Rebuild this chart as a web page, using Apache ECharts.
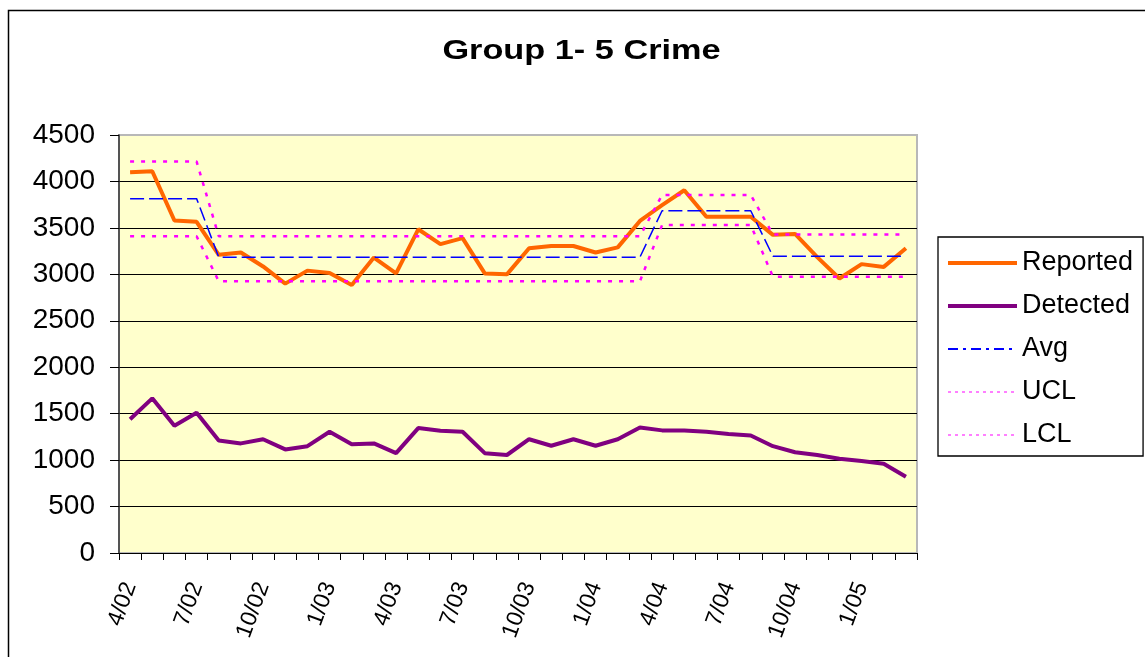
<!DOCTYPE html>
<html>
<head>
    <meta charset="utf-8">
    <title>Group 1- 5 Crime</title>
    <script src="https://cdn.jsdelivr.net/npm/echarts@6/dist/echarts.min.js"></script>
    <style type="text/css">
        body{
            margin: 0;
            background: #fff;
        }
        #main{
            width: 1145px;
            height: 657px;
        }
    </style>
</head>
<body>
<div id="main"></div>
<script>
    var months = ['4/02','5/02','6/02','7/02','8/02','9/02','10/02','11/02','12/02',
        '1/03','2/03','3/03','4/03','5/03','6/03','7/03','8/03','9/03','10/03','11/03','12/03',
        '1/04','2/04','3/04','4/04','5/04','6/04','7/04','8/04','9/04','10/04','11/04','12/04',
        '1/05','2/05','3/05'];
    var reported = [4100,4110,3580,3565,3210,3235,3085,2900,3040,3015,
        2885,3180,3010,3485,3325,3390,3010,3000,3280,3305,
        3305,3235,3290,3575,3745,3905,3620,3620,3620,3425,
        3435,3185,2955,3110,3080,3280];
    var detected = [1440,1665,1370,1510,1210,1180,1225,1115,1150,1305,
        1170,1180,1075,1345,1315,1305,1075,1055,1225,1155,
        1225,1155,1225,1350,1320,1320,1305,1280,1265,1150,
        1085,1055,1015,990,960,820];
    var avg = [3815,3815,3815,3815,3185,3185,3185,3185,3185,3185,
        3185,3185,3185,3185,3185,3185,3185,3185,3185,3185,
        3185,3185,3185,3185,3685,3685,3685,3685,3685,3195,
        3195,3195,3195,3195,3195,3195];
    var ucl = [4215,4215,4215,4215,3410,3410,3410,3410,3410,3410,
        3410,3410,3410,3410,3410,3410,3410,3410,3410,3410,
        3410,3410,3410,3410,3855,3855,3855,3855,3855,3430,
        3430,3430,3430,3430,3430,3430];
    var lcl = [3410,3410,3410,3410,2925,2925,2925,2925,2925,2925,
        2925,2925,2925,2925,2925,2925,2925,2925,2925,2925,
        2925,2925,2925,2925,3530,3530,3530,3530,3530,2975,
        2975,2975,2975,2975,2975,2975];

    var font = '"Liberation Sans", Arial, sans-serif';
    var myChart = echarts.init(document.getElementById('main'));
    var option = {
        animation: false,
        textStyle: {fontFamily: font, color: '#000'},
        graphic: [
            {
                type: 'rect',
                shape: {x: 8.5, y: 10.5, width: 1200, height: 700},
                style: {fill: 'none', stroke: '#000', lineWidth: 1.5},
                silent: true
            },
            {
                type: 'text',
                x: 581.5,
                y: 52,
                scaleX: 1.27,
                style: {
                    text: 'Group 1- 5 Crime',
                    font: 'bold 27px ' + font,
                    fill: '#000',
                    align: 'center',
                    verticalAlign: 'middle'
                }
            }
        ],
        legend: {
            orient: 'vertical',
            left: 938,
            top: 237,
            padding: [11, 10, 6, 8],
            itemGap: 13,
            itemWidth: 69,
            itemHeight: 14,
            itemStyle: {opacity: 0},
            lineStyle: {width: 'inherit'},
            borderColor: '#000',
            borderWidth: 1.3,
            backgroundColor: '#fff',
            textStyle: {fontSize: 27, fontFamily: font, color: '#000', lineHeight: 30},
            data: [
                {name: 'Reported'},
                {name: 'Detected'},
                {name: 'Avg', lineStyle: {width: 2, type: [10, 5, 3, 5]}},
                {name: 'UCL', lineStyle: {width: 1.2, type: [3, 4]}},
                {name: 'LCL', lineStyle: {width: 1.2, type: [3, 4]}}
            ]
        },
        grid: {
            left: 119,
            top: 135,
            right: 228,
            bottom: 104,
            show: true,
            backgroundColor: '#ffffcc',
            borderColor: '#b8b8b8',
            borderWidth: 2
        },
        xAxis: {
            type: 'category',
            data: months,
            boundaryGap: true,
            axisLine: {lineStyle: {color: '#000', width: 1.2}},
            axisTick: {show: true, interval: 0, length: 7, lineStyle: {color: '#000'}},
            axisLabel: {
                interval: 2,
                rotate: 70,
                margin: 30,
                fontSize: 23,
                fontFamily: font,
                color: '#000'
            }
        },
        yAxis: {
            type: 'value',
            min: 0,
            max: 4500,
            interval: 500,
            axisLine: {show: true, lineStyle: {color: '#333', width: 1.5}},
            axisTick: {show: true, length: 9, lineStyle: {color: '#000'}},
            axisLabel: {
                fontSize: 28, margin: 24, fontFamily: font, color: '#000',
                formatter: function (v) { return String(v); }
            },
            splitLine: {
                show: true,
                lineStyle: {
                    color: ['#000','#000','#000','#000','#000','#000','#000','#000','#000','#b8b8b8'],
                    width: 1.2
                }
            }
        },
        series: [
            {
                name: 'Reported', type: 'line', data: reported, symbol: 'none',
                lineStyle: {color: '#ff6600', width: 4}, itemStyle: {color: '#ff6600'}
            },
            {
                name: 'Detected', type: 'line', data: detected, symbol: 'none',
                lineStyle: {color: '#800080', width: 4}, itemStyle: {color: '#800080'}
            },
            {
                name: 'Avg', type: 'line', data: avg, symbol: 'none',
                lineStyle: {color: '#0000ff', width: 1.5, type: [14, 5]}, itemStyle: {color: '#0000ff'}
            },
            {
                name: 'UCL', type: 'line', data: ucl, symbol: 'none',
                lineStyle: {color: '#ff00ff', width: 2.5, type: [4, 7]}, itemStyle: {color: '#ff00ff'}
            },
            {
                name: 'LCL', type: 'line', data: lcl, symbol: 'none',
                lineStyle: {color: '#ff00ff', width: 2.5, type: [4, 7]}, itemStyle: {color: '#ff00ff'}
            }
        ]
    };
    myChart.setOption(option);
</script>
</body>
</html>
